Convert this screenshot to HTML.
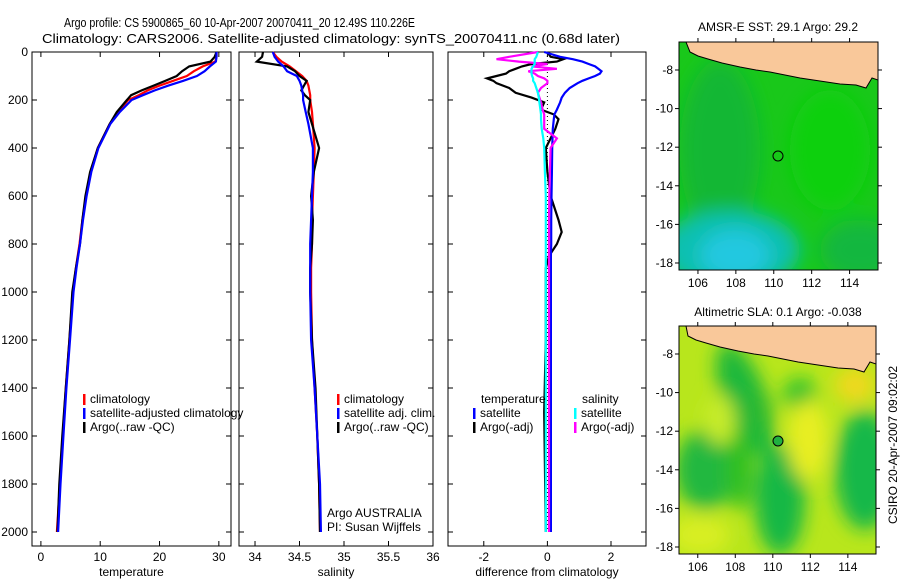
<!DOCTYPE html>
<html><head><meta charset="utf-8"><style>
body{margin:0;background:#fff;}
svg{display:block;font-family:"Liberation Sans",sans-serif;}
</style></head><body>
<svg id="fig" width="900" height="580" viewBox="0 0 900 580">
<defs>
<filter id="blur" x="-20%" y="-20%" width="140%" height="140%"><feGaussianBlur stdDeviation="9"/></filter>
<clipPath id="cm1"><rect x="679" y="42" width="199" height="228"/></clipPath>
<clipPath id="cm2"><rect x="679" y="326" width="197" height="228"/></clipPath>
</defs>
<text x="64" y="27" font-size="13" textLength="351" lengthAdjust="spacingAndGlyphs">Argo profile: CS 5900865_60 10-Apr-2007 20070411_20 12.49S 110.226E</text>
<text x="42" y="43" font-size="13" textLength="578" lengthAdjust="spacingAndGlyphs">Climatology: CARS2006. Satellite-adjusted climatology: synTS_20070411.nc (0.68d later)</text>
<g id="panels"></g>
<g id="maps">
 <g>
  <text x="778" y="31" font-size="12" text-anchor="middle">AMSR-E SST: 29.1 Argo: 29.2</text>
  <g clip-path="url(#cm1)">
   <rect x="679" y="42" width="199" height="228" fill="#19c81a"/>
   <g filter="url(#blur)">
    <ellipse cx="720" cy="150" rx="40" ry="90" fill="#14b040" opacity="0.7"/>
    <ellipse cx="730" cy="250" rx="70" ry="40" fill="#10c0b0"/>
    <ellipse cx="735" cy="255" rx="35" ry="25" fill="#20c8e0"/>
    <ellipse cx="860" cy="250" rx="40" ry="30" fill="#14b050" opacity="0.7"/>
    <ellipse cx="830" cy="150" rx="40" ry="60" fill="#10d010"/>
   </g>
   <polygon points="686,42 878,42 878,80 872,78 866,88 856,85 840,84 820,81 800,78 785,75 770,72 756,70 740,67 722,63 708,59 698,56 690,52" fill="#f9c89a" stroke="#000" stroke-width="1"/>
  </g>
  <rect x="679" y="42" width="199" height="228" fill="none" stroke="#000"/>
  <circle cx="778" cy="156" r="5" fill="none" stroke="#000"/>
  <g id="map1axes"></g>
 </g>
 <g>
  <text x="778" y="316" font-size="12" text-anchor="middle">Altimetric SLA: 0.1 Argo: -0.038</text>
  <g clip-path="url(#cm2)">
   <rect x="679" y="326" width="197" height="228" fill="#b8e61c"/>
   <g filter="url(#blur)">
    <ellipse cx="745" cy="400" rx="22" ry="60" fill="#1cb83a" transform="rotate(-20 745 400)"/>
    <ellipse cx="705" cy="470" rx="30" ry="40" fill="#20b840"/>
    <ellipse cx="780" cy="500" rx="25" ry="55" fill="#18b845"/>
    <ellipse cx="800" cy="395" rx="16" ry="16" fill="#18c030"/>
    <ellipse cx="865" cy="470" rx="30" ry="60" fill="#18b848"/>
    <ellipse cx="740" cy="470" rx="14" ry="40" fill="#30c020"/>
    <ellipse cx="760" cy="410" rx="12" ry="20" fill="#2ab830"/>
    <ellipse cx="720" cy="420" rx="15" ry="25" fill="#c8ec2a"/>
    <ellipse cx="855" cy="385" rx="20" ry="18" fill="#f0d81a"/>
    <ellipse cx="808" cy="440" rx="20" ry="40" fill="#e8ee22"/>
    <ellipse cx="700" cy="535" rx="30" ry="20" fill="#d8ee22"/>
   </g>
   <polygon points="686,326 876,326 876,364 870,362 864,372 854,369 838,368 818,365 798,362 783,359 768,356 754,354 738,351 720,347 706,343 696,340 688,336" fill="#f9c89a" stroke="#000" stroke-width="1"/>
  </g>
  <rect x="679" y="326" width="197" height="228" fill="none" stroke="#000"/>
  <circle cx="778" cy="441" r="5" fill="#20b040" stroke="#000"/>
  <g id="map2axes"></g>
 </g>
</g>
<text transform="translate(897,445) rotate(-90)" font-size="12" text-anchor="middle">CSIRO 20-Apr-2007 09:02:02</text>
</svg>
<script>
// ---- data ----
const depths = [0,20,40,60,80,100,120,140,160,180,200,250,300,400,500,600,700,800,900,1000,1200,1400,1600,1800,2000];
const tempClim = [29.6,29.6,29.4,27.3,25.8,24.6,22.3,20.0,18.0,16.5,14.7,13.0,11.6,9.6,8.4,7.6,7.0,6.5,5.9,5.4,4.8,4.2,3.7,3.2,2.7];
const tempSat  = [29.6,29.6,29.5,28.5,27.6,26.3,24.0,21.5,19.2,17.2,15.3,13.3,11.7,9.7,8.5,7.7,7.1,6.6,6.0,5.5,4.9,4.3,3.8,3.3,2.9];
const tempArgo = [29.6,29.3,28.6,25.0,23.8,22.9,21.0,19.0,17.0,15.2,14.5,12.8,11.6,9.6,8.3,7.5,7.0,6.6,5.9,5.3,4.8,4.2,3.6,3.1,2.8];
const salClim  = [34.20,34.24,34.30,34.39,34.46,34.53,34.58,34.60,34.61,34.62,34.62,34.64,34.65,34.67,34.66,34.65,34.64,34.64,34.63,34.63,34.64,34.67,34.70,34.72,34.73];
const salSat   = [34.20,34.22,34.26,34.32,34.36,34.47,34.50,34.52,34.53,34.54,34.54,34.57,34.60,34.65,34.65,34.64,34.63,34.62,34.62,34.62,34.63,34.67,34.70,34.73,34.74];
const salArgo  = [34.09,34.08,34.02,34.36,34.45,34.50,34.58,34.55,34.52,34.56,34.62,34.60,34.64,34.72,34.66,34.63,34.65,34.64,34.62,34.62,34.64,34.68,34.70,34.72,34.73];
const diffDepths = [0,20,30,40,50,60,70,80,90,100,110,120,130,150,170,190,210,240,260,280,320,360,400,500,600,700,750,800,850,900,1200,1500,2000];
const dTempSat  = [-0.1,0.4,0.8,1.1,1.3,1.5,1.6,1.7,1.65,1.5,1.3,1.1,0.95,0.7,0.55,0.45,0.4,0.3,0.22,0.2,0.17,0.16,0.15,0.14,0.13,0.12,0.12,0.12,0.11,0.11,0.11,0.11,0.11];
const dTempArgo = [0.0,0.1,0.5,0.3,-0.5,-0.8,-1.0,-1.2,-1.3,-1.6,-1.9,-1.7,-1.6,-1.2,-1.0,-0.5,-0.1,-0.2,0.2,0.35,0.25,0.1,-0.05,0.0,0.1,0.35,0.45,0.3,0.05,-0.05,-0.05,-0.1,-0.05];
const dSalSat   = [-0.3,-0.35,-0.4,-0.4,-0.4,-0.45,-0.5,-0.5,-0.5,-0.48,-0.45,-0.45,-0.4,-0.35,-0.3,-0.27,-0.25,-0.22,-0.2,-0.2,-0.18,-0.13,-0.1,-0.08,-0.05,-0.05,-0.05,-0.05,-0.05,-0.05,-0.05,-0.05,-0.05];
const dSalArgo  = [-0.3,-1.2,-1.6,-0.9,0.0,-0.5,0.3,-0.6,-0.4,-0.3,-0.1,0.0,0.0,-0.2,-0.3,-0.25,-0.2,-0.15,-0.1,-0.1,-0.1,0.3,0.1,0.08,0.06,0.05,0.05,0.05,0.05,0.05,0.05,0.05,0.05];
const depthTicks = [0,200,400,600,800,1000,1200,1400,1600,1800,2000];
const tempTicks = [0,10,20,30];
const salTicks = [34,34.5,35,35.5,36];
const diffTicks = [-2,0,2];
const lonTicks = [106,108,110,112,114];
const latTicks = [-8,-10,-12,-14,-16,-18];

const NS='http://www.w3.org/2000/svg';
function mk(tag, attrs, parent){const e=document.createElementNS(NS,tag);for(const k in attrs)e.setAttribute(k,attrs[k]);parent.appendChild(e);return e;}
const yD = d => 52 + d*0.24;
const panelsG = document.getElementById('panels');

function panel(name, x0, x1, vmin, vmax, ticks, xlabel, showY){
  const g = mk('g',{},panelsG);
  
  
  const sx = v => x0 + (v-vmin)/(vmax-vmin)*(x1-x0);
  const fr = mk('rect',{x:x0,y:52,width:x1-x0,height:494,fill:'none',stroke:'#000'},g);
  
  
  ticks.forEach(t=>{
    const x=sx(t);
    mk('line',{x1:x,x2:x,y1:546,y2:541,stroke:'#000'},g);
    mk('line',{x1:x,x2:x,y1:52,y2:57,stroke:'#000'},g);
    const tl=mk('text',{x:x,y:561,'font-size':12,'text-anchor':'middle'},g);
    tl.textContent=t;
    
    
  });
  depthTicks.forEach(d=>{
    mk('line',{x1:x0,x2:x0+5,y1:yD(d),y2:yD(d),stroke:'#000'},g);
    mk('line',{x1:x1,x2:x1-5,y1:yD(d),y2:yD(d),stroke:'#000'},g);
    if(showY){
      const tl=mk('text',{x:x0-4,y:yD(d)+4,'font-size':12,'text-anchor':'end'},g);
      tl.textContent=d;
      
      
    }
  });
  const xl=mk('text',{x:(x0+x1)/2,y:576,'font-size':12,'text-anchor':'middle'},g);
  xl.textContent=xlabel;
  
  
  return {g,sx};
}
function series(p, dep, vals, color, nm){
  const pts = vals.map((v,i)=>p.sx(v).toFixed(1)+','+yD(dep[i]).toFixed(1)).join(' ');
  const l=mk('polyline',{points:pts,fill:'none',stroke:color,'stroke-width':2.2},p.g);
  
  
}
function legend(g, x, y, items){
  items.forEach((it,i)=>{
    if(it[1]) mk('rect',{x:x,y:y+i*14-9,width:2.5,height:11,fill:it[1]},g);
    const t=mk('text',{x:x+7,y:y+i*14,'font-size':12},g);
    t.textContent=it[0];
    
    
  });
}

const p1 = panel('temperature-panel',32,231,-1.5,32.05,tempTicks,'temperature',true);
series(p1,depths,tempClim,'#f00','temp-climatology-line');
series(p1,depths,tempArgo,'#000','temp-argo-line');
series(p1,depths,tempSat,'#00f','temp-satellite-line');
legend(p1.g,83,403,[['climatology','#f00'],['satellite-adjusted climatology','#00f'],['Argo(..raw -QC)','#000']]);

const p2 = panel('salinity-panel',239,433,33.82,36.0,salTicks,'salinity',false);
series(p2,depths,salClim,'#f00','sal-climatology-line');
series(p2,depths,salArgo,'#000','sal-argo-line');
series(p2,depths,salSat,'#00f','sal-satellite-line');
legend(p2.g,337,403,[['climatology','#f00'],['satellite adj. clim.','#00f'],['Argo(..raw -QC)','#000']]);
legend(p2.g,320,517,[['Argo AUSTRALIA',null],['PI: Susan Wijffels',null]]);

const p3 = panel('difference-panel',448,646,-3.125,3.1,diffTicks,'difference from climatology',false);
const zl=mk('line',{x1:p3.sx(0),x2:p3.sx(0),y1:yD(0),y2:yD(2000),stroke:'#000','stroke-dasharray':'1,3'},p3.g);


series(p3,diffDepths,dTempArgo,'#000','diff-temp-argo-line');
series(p3,diffDepths,dTempSat,'#00f','diff-temp-satellite-line');
series(p3,diffDepths,dSalArgo,'#f0f','diff-sal-argo-line');
series(p3,diffDepths,dSalSat,'#0ff','diff-sal-satellite-line');
legend(p3.g,474,403,[['temperature',null]]);
legend(p3.g,473,417,[['satellite','#00f'],['Argo(-adj)','#000']]);
legend(p3.g,575,403,[['salinity',null]]);
legend(p3.g,574,417,[['satellite','#0ff'],['Argo(-adj)','#f0f']]);

function mapAxes(id, x0, x1, yTop, yBot, latTop){
  const g=document.getElementById(id);
  const lx = lon => x0 + (lon-105.0)/(115.5-105.0)*(x1-x0);
  const ly = lat => yTop + (latTop-lat)*19.3;
  lonTicks.forEach(l=>{
    const x=lx(l);
    mk('line',{x1:x,x2:x,y1:yBot,y2:yBot+4,stroke:'#000'},g);
    mk('line',{x1:x,x2:x,y1:yTop,y2:yTop-4,stroke:'#000'},g);
    const t=mk('text',{x:x,y:yBot+17,'font-size':12,'text-anchor':'middle'},g);
    t.textContent=l;
    
    
  });
  latTicks.forEach(l=>{
    const y=ly(l);
    mk('line',{x1:x0,x2:x0-4,y1:y,y2:y,stroke:'#000'},g);
    mk('line',{x1:x1,x2:x1+4,y1:y,y2:y,stroke:'#000'},g);
    const t=mk('text',{x:x0-6,y:y+4,'font-size':12,'text-anchor':'end'},g);
    t.textContent=l;
    
    
  });
}
mapAxes('map1axes',679,878,42,270,-6.55);
mapAxes('map2axes',679,876,326,554,-6.55);
</script>
</body></html>
